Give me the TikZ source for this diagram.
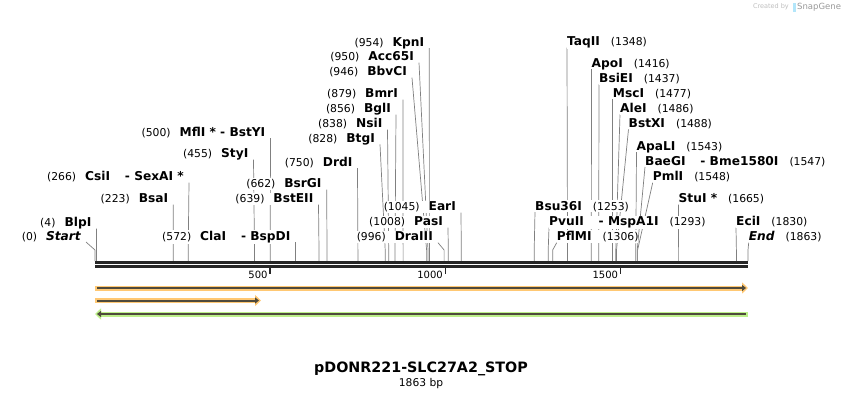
\documentclass[tikz,border=0pt]{standalone}
\usepackage{fontspec}
\setmainfont{DejaVu Sans}
\usetikzlibrary{arrows.meta}
\pgfdeclarelayer{paper}
\pgfdeclarelayer{lines}
\pgfsetlayers{paper,lines,main}
\newcommand{\enzname}[1]{{\fontsize{12.2}{13}\selectfont\bfseries #1}}
\definecolor{featorange}{HTML}{FFC873}
\definecolor{featgreen}{HTML}{BDF08A}
\definecolor{featdark}{HTML}{4F4A3C}
\definecolor{backbone}{HTML}{262626}

\begin{document}
\begin{tikzpicture}[x=1pt, y=-1pt, >=stealth,
    lbl/.style={fill=white, inner xsep=0pt, inner ysep=1pt, font=\fontsize{10.8}{12}\selectfont},
    cut/.style={black!50, line width=0.7pt},
    tick/.style={backbone, line width=1.5pt}]
  \useasboundingbox (0,0) rectangle (844,400);
  \begin{pgfonlayer}{paper}
    \fill[white] (0,0) rectangle (844,400);
  \end{pgfonlayer}
  % sequence
  \coordinate (seqL) at (95,262.5);
  \coordinate (seqR) at (748,262.5);
  \draw[backbone, line width=3pt] (seqL) -- (seqR);
  \draw[backbone, line width=2.5pt] ([yshift=-4pt]seqL) -- ([yshift=-4pt]seqR);
  \foreach \tk/\tx in {500/270.2, 1000/445.5, 1500/620.7} {
    \coordinate (tk\tk) at (\tx,267);
    \draw[tick] (tk\tk) -- ++(0,7);
    \node[lbl, anchor=base east, font=\fontsize{10}{12}\selectfont] (tl\tk) at (\tx-2.5,278) {\tk};
  }
  % sites, left labels
  \foreach \n/\site/\lx/\ly/\txt in {
      start/95/81/240/{(0)\hspace{9pt}\enzname{\itshape Start}},
      blp/96.4/91.5/226.5/{(4)\hspace{9pt}\enzname{BlpI}},
      bsa/173.2/168.3/202.7/{(223)\hspace{9pt}\enzname{BsaI}},
      csi/188.2/184/180.7/{(266)\hspace{9pt}\enzname{CsiI\hphantom{ *} - SexAI *}},
      sty/254.5/248.5/157.7/{(455)\hspace{9pt}\enzname{StyI}},
      mfl/270.2/265.5/136/{(500)\hspace{9pt}\enzname{MflI * - BstYI}},
      cla/295.5/290.5/240.3/{(572)\hspace{9pt}\enzname{ClaI\hphantom{ *} - BspDI}},
      bste/319/313.5/202.7/{(639)\hspace{9pt}\enzname{BstEII}},
      bsrg/327/321.7/187.7/{(662)\hspace{9pt}\enzname{BsrGI}},
      drd/357.9/352.5/166/{(750)\hspace{9pt}\enzname{DrdI}},
      btg/385.2/375/142.3/{(828)\hspace{9pt}\enzname{BtgI}},
      nsi/388.7/382.5/127.7/{(838)\hspace{9pt}\enzname{NsiI}},
      bgl/395/391/112.7/{(856)\hspace{9pt}\enzname{BglI}},
      bmr/403.1/398/97.7/{(879)\hspace{9pt}\enzname{BmrI}},
      bbv/426.6/407/75.7/{(946)\hspace{9pt}\enzname{BbvCI}},
      acc/428/414/60.7/{(950)\hspace{9pt}\enzname{Acc65I}},
      kpn/429.4/424.3/46/{(954)\hspace{9pt}\enzname{KpnI}},
      dra/444.1/433/240.7/{(996)\hspace{9pt}\enzname{DraIII}},
      pas/448.3/443/225.7/{(1008)\hspace{9pt}\enzname{PasI}},
      ear/461.3/456/210.7/{(1045)\hspace{9pt}\enzname{EarI}}} {
    \node[lbl, anchor=base east] (\n) at (\lx,\ly) {\txt};
    \coordinate (\n-s) at (\site,261);
    \begin{pgfonlayer}{lines}
      \draw[cut] ([shift={(5pt,-2pt)}]\n.base east) -- ([yshift=11pt]\n-s) -- (\n-s);
    \end{pgfonlayer}
  }
  % sites, right labels
  \foreach \n/\site/\lx/\ly/\txt in {
      bsu/534.2/535/210/{\enzname{Bsu36I}\hspace{11pt}(1253)},
      pvu/548.2/549/225.7/{\enzname{PvuII\hphantom{ *} - MspA1I}\hspace{11pt}(1293)},
      pfl/552.7/556.7/240.7/{\enzname{PflMI}\hspace{11pt}(1306)},
      taq/567.5/567/45.7/{\enzname{TaqII}\hspace{11pt}(1348)},
      apo/591.3/591.5/67/{\enzname{ApoI}\hspace{11pt}(1416)},
      bsie/598.7/599/82.3/{\enzname{BsiEI}\hspace{11pt}(1437)},
      msc/612.7/612.7/97.3/{\enzname{MscI}\hspace{11pt}(1477)},
      ale/615.8/620/112.3/{\enzname{AleI}\hspace{11pt}(1486)},
      bstx/616.5/628.5/127.3/{\enzname{BstXI}\hspace{11pt}(1488)},
      apal/635.8/636.5/150/{\enzname{ApaLI}\hspace{11pt}(1543)},
      baeg/637.2/645/165/{\enzname{BaeGI\hphantom{ *} - Bme1580I}\hspace{11pt}(1547)},
      pml/637.6/652.7/180.7/{\enzname{PmlI}\hspace{11pt}(1548)},
      stu/678.6/678.5/202.7/{\enzname{StuI *}\hspace{11pt}(1665)},
      eci/736.4/736/225.7/{\enzname{EciI}\hspace{11pt}(1830)},
      end/748/748.7/240.7/{\enzname{\itshape End}\hspace{11pt}(1863)}} {
    \node[lbl, anchor=base west] (\n) at (\lx,\ly) {\txt};
    \coordinate (\n-s) at (\site,261);
    \begin{pgfonlayer}{lines}
      \draw[cut] ([shift={(0pt,-2pt)}]\n.base west) -- ([yshift=11pt]\n-s) -- (\n-s);
    \end{pgfonlayer}
  }
  % features
  \coordinate (f1L) at (95,288);   \coordinate (f1R) at (748,288);
  \coordinate (f2L) at (95,300.5); \coordinate (f2R) at (261,300.5);
  \coordinate (f3L) at (95,314);   \coordinate (f3R) at (748,314);
  \draw[featorange, line width=5pt, -{Triangle[length=6pt,width=11pt]}] (f1L) -- (f1R);
  \draw[featdark, line width=2pt, -{Triangle[length=4pt,width=6pt]}] ([xshift=2pt]f1L) -- ([xshift=-2pt]f1R);
  \draw[featorange, line width=5pt, -{Triangle[length=6pt,width=11pt]}] (f2L) -- (f2R);
  \draw[featdark, line width=2pt, -{Triangle[length=4pt,width=6pt]}] ([xshift=2pt]f2L) -- ([xshift=-2pt]f2R);
  \draw[featgreen, line width=5pt, {Triangle[length=6pt,width=11pt]}-] (f3L) -- (f3R);
  \draw[featdark, line width=2pt, {Triangle[length=4pt,width=6pt]}-] ([xshift=2pt]f3L) -- ([xshift=-2pt]f3R);
  % title
  \node[font=\fontsize{14.3}{16}\selectfont\bfseries] (title) at (421,369) {pDONR221-SLC27A2\_STOP};
  \node[font=\fontsize{10.7}{12}\selectfont] (size) at (421,384) {1863 bp};
  % watermark
  \node[font=\fontsize{6.5}{8}\selectfont, text=black!25, anchor=east, inner sep=0pt] (made) at (789,7) {Created by};
  \fill[cyan!30] (793,3) rectangle (795.5,12);
  \node[font=\fontsize{8.5}{10}\selectfont, text=black!40, anchor=west, inner sep=0pt] (sg) at (797,7) {SnapGene};
\end{tikzpicture}
\end{document}
